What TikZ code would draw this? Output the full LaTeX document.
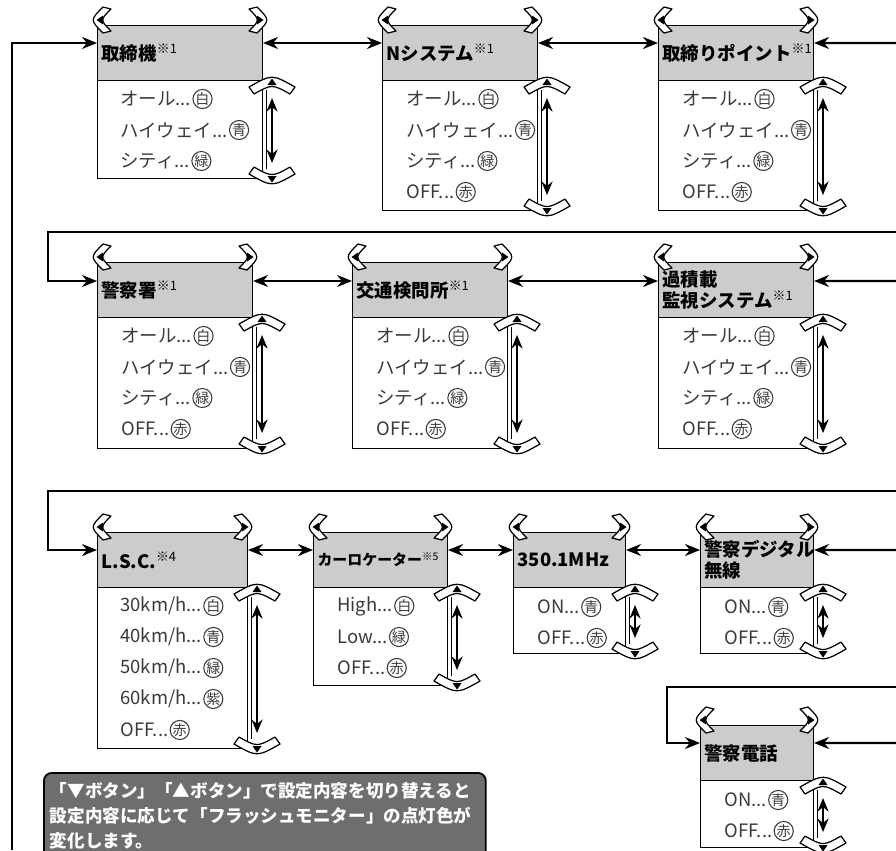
\documentclass[tikz,border=0pt]{standalone}
\usepackage{fontspec}
\setmainfont{Noto Sans CJK JP}
\usetikzlibrary{arrows.meta,positioning}

\definecolor{headgray}{HTML}{CCCCCC}
\definecolor{notegray}{HTML}{6E6E6E}
\definecolor{itemgray}{HTML}{3A3A3A}

\newcommand{\fnmark}[1]{\textsuperscript{\mdseries※#1}}

\tikzset{
  head/.style={draw, fill=headgray, line width=0.6pt, anchor=north west, align=left,
    inner xsep=0.08cm, inner ysep=0pt, minimum height=1.1cm, text width=#1,
    font=\fontsize{10.5}{12}\selectfont\bfseries},
  list/.style={draw, fill=white, line width=0.6pt, anchor=north west},
  item/.style={anchor=west, inner sep=0pt, text=itemgray, font=\fontsize{10.5}{12}\selectfont},
  maru/.style={circle, draw=itemgray, line width=0.6pt, inner sep=0pt, minimum size=0.37cm,
    anchor=west, text=itemgray, font=\fontsize{8}{9}\selectfont},
  link/.style={line width=1.2pt, {Stealth[length=0.3cm,width=0.24cm]}-{Stealth[length=0.3cm,width=0.24cm]}},
  into/.style={line width=1.2pt, -{Stealth[length=0.3cm,width=0.24cm]}},
  updown/.style={line width=1.3pt, {Stealth[length=0.27cm,width=0.22cm]}-{Stealth[length=0.27cm,width=0.22cm]}},
  rail/.style={line width=0.5pt},
  keyline/.style={draw, fill=white, line width=0.7pt, line join=round},
  notebox/.style={draw, line width=1pt, fill=notegray, rounded corners=0.16cm, anchor=north west,
    align=left, text=white, text width=8.6cm, inner xsep=0.12cm, inner ysep=0.2cm,
    font=\fontsize{10}{14.2}\selectfont\bfseries},
  key/.pic={
    \path[keyline] (-23,4) .. controls (0,-9) .. (23,4) -- (18,11) .. controls (0,1) .. (-18,11) -- cycle;
    \fill (-4.5,2) -- (4.5,2) -- (0,-4.5) -- cycle;
  },
  sidekey/.pic={
    \path[keyline] (2,-13) .. controls (-11,0) .. (2,13) -- (10,11) .. controls (-1,0) .. (10,-11) -- cycle;
    \fill (2,-4.5) -- (2,4.5) -- (-4.5,0) -- cycle;
  }
}

\begin{document}
\begin{tikzpicture}[x=0.02cm, y=-0.02cm]
    \useasboundingbox (0,0) rectangle (896,850);
    \clip (0,0) rectangle (896,850);

    % First row
    \node[head=3.14cm] (A-top) at (97,25) {取締機\fnmark{1}};
    \node[list, minimum width=3.3cm, minimum height=1.96cm] (A-list) at (97,80) {};
    \node[head=2.94cm] (B-top) at (382,25) {Nシステム\fnmark{1}};
    \node[list, minimum width=3.1cm, minimum height=2.6cm] (B-list) at (382,80) {};
    \node[head=2.94cm] (C-top) at (658,25) {取締りポイント\fnmark{1}};
    \node[list, minimum width=3.1cm, minimum height=2.6cm] (C-list) at (658,80) {};

    % Second row
    \node[head=2.94cm] (D-top) at (97,262) {警察署\fnmark{1}};
    \node[list, minimum width=3.1cm, minimum height=2.62cm] (D-list) at (97,317) {};
    \node[head=2.94cm] (E-top) at (352,262) {交通検問所\fnmark{1}};
    \node[list, minimum width=3.1cm, minimum height=2.62cm] (E-list) at (352,317) {};
    \node[head=2.94cm] (F-top) at (658,262) {過積載\\監視システム\fnmark{1}};
    \node[list, minimum width=3.1cm, minimum height=2.62cm] (F-list) at (658,317) {};

    % Third row
    \node[head=2.84cm] (G-top) at (97,532) {L.S.C.\fnmark{4}};
    \node[list, minimum width=3.0cm, minimum height=3.22cm] (G-list) at (97,587) {};
    \node[head=2.52cm, font=\fontsize{8.5}{10}\selectfont\bfseries] (H-top) at (313,532) {カーロケーター\fnmark{5}};
    \node[list, minimum width=2.68cm, minimum height=1.96cm] (H-list) at (313,587) {};
    \node[head=2.08cm] (I-top) at (513,532) {350.1MHz};
    \node[list, minimum width=2.24cm, minimum height=1.32cm] (I-list) at (513,587) {};
    \node[head=2.1cm] (J-top) at (700,532) {警察デジタル\\無線};
    \node[list, minimum width=2.26cm, minimum height=1.32cm] (J-list) at (700,587) {};

    % Fourth row
    \node[head=2.1cm] (K-top) at (700,725) {警察電話};
    \node[list, minimum width=2.26cm, minimum height=1.34cm] (K-list) at (700,780) {};

    % Settings in each list
    \foreach \txt/\clr [count=\i] in {オール/白, ハイウェイ/青, シティ/緑} {
        \node[item] (A\i) at ([xshift=0.46cm, yshift={-0.38cm-(\i-1)*0.62cm}]A-list.north west) {\txt...};
        \node[maru] (A\i o) at ([xshift=0.02cm]A\i.east) {\clr};
    }
    \foreach \m in {B,C,D,E,F} {
        \foreach \txt/\clr [count=\i] in {オール/白, ハイウェイ/青, シティ/緑, OFF/赤} {
            \node[item] (\m\i) at ([xshift=0.48cm, yshift={-0.38cm-(\i-1)*0.62cm}]\m-list.north west) {\txt...};
            \node[maru] (\m\i o) at ([xshift=0.02cm]\m\i.east) {\clr};
        }
    }
    \foreach \v/\clr [count=\i] in {30/白, 40/青, 50/緑, 60/紫} {
        \node[item] (G\i) at ([xshift=0.46cm, yshift={-0.38cm-(\i-1)*0.62cm}]G-list.north west) {\v km/h...};
        \node[maru] (G\i o) at ([xshift=0.02cm]G\i.east) {\clr};
    }
    \node[item] (G5) at ([xshift=0.46cm, yshift=-2.86cm]G-list.north west) {OFF...};
    \node[maru] (G5o) at ([xshift=0.02cm]G5.east) {赤};
    \foreach \txt/\clr [count=\i] in {High/白, Low/緑, OFF/赤} {
        \node[item] (H\i) at ([xshift=0.48cm, yshift={-0.38cm-(\i-1)*0.62cm}]H-list.north west) {\txt...};
        \node[maru] (H\i o) at ([xshift=0.02cm]H\i.east) {\clr};
    }
    \foreach \m in {I,J,K} {
        \foreach \txt/\clr [count=\i] in {ON/青, OFF/赤} {
            \node[item] (\m\i) at ([xshift=0.48cm, yshift={-0.4cm-(\i-1)*0.62cm}]\m-list.north west) {\txt...};
            \node[maru] (\m\i o) at ([xshift=0.02cm]\m\i.east) {\clr};
        }
    }

    % Buttons on every box
    \foreach \m in {A,B,C,D,E,F,G,H,I,J,K} {
        \draw[rail] ([xshift=0.06cm, yshift=-0.2cm]\m-list.north east) -- ([xshift=0.06cm, yshift=0.2cm]\m-list.south east);
        \draw[updown] ([xshift=0.18cm, yshift=-0.36cm]\m-list.north east) -- ([xshift=0.18cm, yshift=0.32cm]\m-list.south east);
        \pic at ([xshift=0.18cm, yshift=-0.06cm]\m-list.north east) {key};
        \pic[yscale=-1] at ([xshift=0.18cm, yshift=0.02cm]\m-list.south east) {key};
        \pic at ([xshift=0.08cm, yshift=0.1cm]\m-top.north west) {sidekey};
        \pic[xscale=-1] at ([xshift=-0.08cm, yshift=0.1cm]\m-top.north east) {sidekey};
    }

    % Connections, first row
    \coordinate (edgeL) at (12,850);
    \coordinate (edgeR1) at (896,43);
    \draw[into] (edgeL) |- ([yshift=-0.36cm]A-top.north west);
    \draw[link] ([yshift=-0.36cm]A-top.north east) -- ([yshift=-0.36cm]B-top.north west);
    \draw[link] ([yshift=-0.36cm]B-top.north east) -- ([yshift=-0.36cm]C-top.north west);
    \draw[into] (edgeR1) -- ([yshift=-0.36cm]C-top.north east);

    % Connections, second row
    \coordinate (edgeR2) at (896,232);
    \coordinate (bend2) at (48,232);
    \coordinate (edgeR2b) at (896,281);
    \draw[into] (edgeR2) -- (bend2) |- ([yshift=-0.38cm]D-top.north west);
    \draw[link] ([yshift=-0.38cm]D-top.north east) -- ([yshift=-0.38cm]E-top.north west);
    \draw[link] ([yshift=-0.38cm]E-top.north east) -- ([yshift=-0.38cm]F-top.north west);
    \draw[into] (edgeR2b) -- ([yshift=-0.38cm]F-top.north east);

    % Connections, third row
    \coordinate (edgeR3) at (896,491);
    \coordinate (bend3) at (48,491);
    \coordinate (edgeR3b) at (896,550);
    \draw[into] (edgeR3) -- (bend3) |- ([yshift=-0.36cm]G-top.north west);
    \draw[link] ([yshift=-0.36cm]G-top.north east) -- ([yshift=-0.36cm]H-top.north west);
    \draw[link] ([yshift=-0.36cm]H-top.north east) -- ([yshift=-0.36cm]I-top.north west);
    \draw[link] ([yshift=-0.36cm]I-top.north east) -- ([yshift=-0.36cm]J-top.north west);
    \draw[into] (edgeR3b) -- ([yshift=-0.36cm]J-top.north east);

    % Connections, fourth row
    \coordinate (edgeR4) at (896,687);
    \coordinate (bend4) at (667,687);
    \coordinate (edgeR4b) at (896,743);
    \draw[into] (edgeR4) -- (bend4) |- ([yshift=-0.36cm]K-top.north west);
    \draw[into] (edgeR4b) -- ([yshift=-0.36cm]K-top.north east);

    % Note
    \node[notebox] (memo) at (43,772) {「▼ボタン」「▲ボタン」で設定内容を切り替えると\\設定内容に応じて「フラッシュモニター」の点灯色が\\変化します。};
\end{tikzpicture}
\end{document}
